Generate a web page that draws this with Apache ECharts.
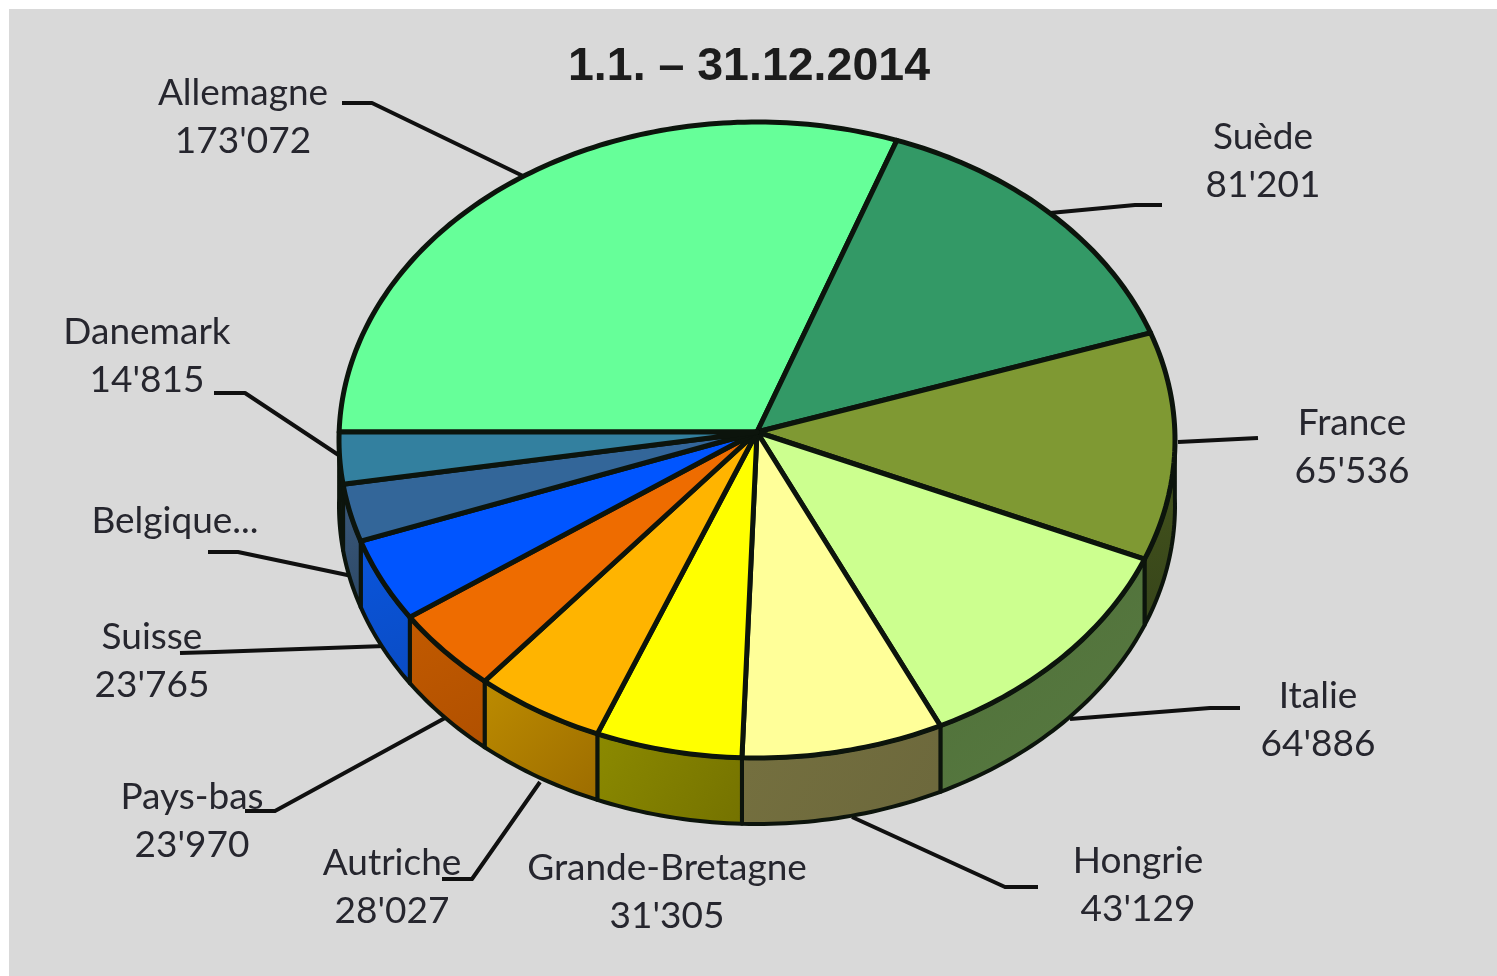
<!DOCTYPE html>
<html>
<head>
<meta charset="utf-8">
<title>1.1. – 31.12.2014</title>
<script src="https://cdn.jsdelivr.net/npm/echarts@6/dist/echarts.min.js"></script>
<style>
  html, body { margin: 0; padding: 0; background: #fff; }
  #chart { width: 1497px; height: 976px; }
</style>
</head>
<body>
<div id="chart"></div>
<script>
const countries = ["Allemagne", "Suède", "France", "Italie", "Hongrie", "Grande-Bretagne", "Autriche", "Pays-bas", "Suisse", "Belgique...", "Danemark"];
const values = [173072, 81201, 65536, 64886, 43129, 31305, 28027, 23970, 23765, 16500, 14815]; // Belgique not printed, estimated from its slice
const hiddenValues = ["Belgique..."];

const topColors = ["#66ff99", "#339966", "#7f9933", "#ccff8f", "#ffff99", "#ffff00", "#ffb400", "#ee6c00", "#0055ff", "#336699", "#33809f"];
const wallColorsFrom = ["#2c5c3c", "#1c4c2c", "#46561c", "#4f7038", "#75703f", "#8c8a00", "#bd8c00", "#c25a00", "#0a55dc", "#3c5a7c", "#2a4a60"];
const wallColorsTo = ["#2c5c3c", "#1c4c2c", "#36441a", "#587a42", "#6c683c", "#747200", "#9c6c00", "#b05000", "#0a4cc4", "#2c4866", "#2a4a60"];

// label centres, in page pixels
const labelX = [243, 1263, 1352, 1318, 1138, 667, 392, 192, 152, 175, 147];
const labelY = [117, 161, 447, 720, 885, 892, 887, 821, 661, 521, 356];

// leader lines, in page pixels, same order as countries
const leaders = [
  [[342, 103], [372, 103], [523, 176]],
  [[1050, 213], [1135, 205], [1162, 205]],
  [[1178, 442], [1258, 438]],
  [[1070, 719], [1210, 708], [1240, 708]],
  [[852, 817], [1005, 887], [1038, 887]],
  [],
  [[540, 782], [472, 879], [442, 879]],
  [[445, 718], [275, 811], [245, 811]],
  [[385, 646], [215, 652], [180, 653]],
  [[352, 576], [238, 552], [208, 552]],
  [[340, 456], [245, 393], [214, 393]]
];

// pie layout: the apex sits a bit above the centre of the rim ellipse
const cx = 757, cy = 432, rx = 418, ry = 318, apexOffset = 8, depth = 66;
const lineColor = "#0c140c";

const total = values.reduce((a, b) => a + b, 0);
const startAngles = [];
let running = 0;
values.forEach((v) => {
  startAngles.push(180 - (running / total) * 360);
  running += v;
});
const endAngle = (i) => startAngles[i] - (values[i] / total) * 360;

const rimPoint = (deg, dy) => {
  const a = (deg * Math.PI) / 180;
  const c = Math.cos(a), s = Math.sin(a);
  const e = apexOffset / ry;
  const t = -e * s + Math.sqrt(1 - e * e * c * c);
  return [cx + rx * t * c, cy - ry * t * s + (dy || 0)];
};
const arcPoints = (from, to, dy) => {
  const n = Math.max(2, Math.ceil(Math.abs(from - to)));
  const pts = [];
  for (let k = 0; k <= n; k++) pts.push(rimPoint(from + ((to - from) * k) / n, dy));
  return pts;
};
const formatValue = (v) => String(v).replace(/\B(?=(\d{3})+$)/g, "'");

const chart = echarts.init(document.getElementById("chart"));
const rows = values.map((v, i) => [i, v]);

chart.setOption({
  animation: false,
  backgroundColor: "#ffffff",
  title: {
    text: "1.1. – 31.12.2014",
    left: 568,
    top: 44,
    textStyle: { fontFamily: "Liberation Sans", fontSize: 46.5, fontWeight: "bold", color: "#1c1c1c" },
    padding: 0,
  },
  graphic: [
    { type: "rect", z: -10, silent: true, shape: { x: 9, y: 9, width: 1488, height: 967 }, style: { fill: "#d9d9d9" } },
  ],
  series: [
    {
      // leader lines
      type: "custom",
      coordinateSystem: "none",
      z: 1,
      silent: true,
      data: rows,
      renderItem: (params) => {
        const pts = leaders[params.dataIndex];
        if (!pts.length) return { type: "group", children: [] };
        return {
          type: "polyline",
          shape: { points: pts },
          style: { fill: "none", stroke: "#101010", lineWidth: 4, lineJoin: "round" },
        };
      },
    },
    {
      // side walls, only the part of the rim that faces the viewer
      type: "custom",
      coordinateSystem: "none",
      z: 2,
      silent: true,
      data: rows,
      renderItem: (params) => {
        const i = params.dataIndex;
        const from = Math.min(startAngles[i], 0);
        const to = endAngle(i);
        if (to >= 0) return { type: "group", children: [] };
        const pts = arcPoints(from, to, 0).concat(arcPoints(to, from, depth));
        return {
          type: "polygon",
          shape: { points: pts },
          style: {
            fill: new echarts.graphic.LinearGradient(0, 0, 1, 1, [
              { offset: 0, color: wallColorsFrom[i] },
              { offset: 1, color: wallColorsTo[i] },
            ]),
            stroke: lineColor,
            lineWidth: 4,
            lineJoin: "round",
          },
        };
      },
    },
    {
      // top face of the slices
      type: "custom",
      coordinateSystem: "none",
      z: 3,
      silent: true,
      data: rows,
      renderItem: (params) => {
        const i = params.dataIndex;
        const pts = [[cx, cy]].concat(arcPoints(startAngles[i], endAngle(i), 0));
        return {
          type: "polygon",
          shape: { points: pts },
          style: { fill: topColors[i], stroke: lineColor, lineWidth: 5, lineJoin: "round" },
        };
      },
    },
    {
      // labels
      type: "custom",
      coordinateSystem: "none",
      z: 4,
      silent: true,
      data: rows,
      renderItem: (params, api) => {
        const i = params.dataIndex;
        const name = countries[i];
        const text = hiddenValues.includes(name) ? name : name + "\n" + formatValue(api.value(1));
        return {
          type: "text",
          style: {
            x: labelX[i],
            y: labelY[i],
            text: text,
            align: "center",
            verticalAlign: "middle",
            fontFamily: "Lato",
            fontSize: 37,
            lineHeight: 48,
            fill: "#26262e",
          },
        };
      },
    },
  ],
});

window.addEventListener("resize", () => chart.resize());
</script>
</body>
</html>
